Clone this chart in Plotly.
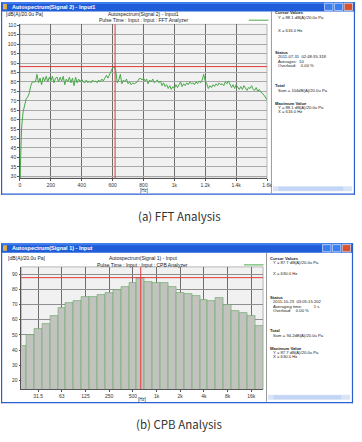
import plotly.graph_objects as go

W, H = 362, 442

# ---------------- data ----------------
FFT_STEP_HZ = 10
FFT_DB = [
    27, 55, 64, 68, 71, 72, 74, 78, 80, 80,
    80, 84, 79.5, 82, 78.5, 82.5, 80.5, 83, 80, 82.5,
    80.5, 83, 79.5, 82, 82.5, 80, 82.5, 80.5, 83, 78.5,
    81.5, 80, 82.5, 79.5, 82, 78, 82.5, 79.5, 81.5, 80,
    81.5, 80, 79.5, 81, 79.5, 80.5, 79.5, 81, 80, 80.5,
    79.5, 81, 80, 81.5, 80.5, 82, 83.5, 82, 84, 85.5,
    87.5, 88, 86, 79.5, 81, 84, 79, 81, 80, 81.5,
    79, 80, 78.5, 79.5, 79, 79.5, 80, 81.5, 82, 81,
    82, 80.5, 81.5, 79, 81, 80, 81.5, 79.5, 80.5, 81,
    79.5, 80.5, 78, 79.5, 77.5, 78.5, 76.5, 78, 76, 77.5,
    76.5, 78.5, 77, 78.5, 80, 77.5, 79, 78, 79.5, 78.5,
    80, 79, 79.5, 78.5, 80, 79, 80.5, 79.5, 81, 84,
    80.5, 79, 76.5, 78, 77, 78.5, 77.5, 79, 78, 79.5,
    78.5, 79, 78, 80, 79, 80.5, 78.5, 77, 78.5, 76.5,
    78.5, 77, 76, 77.5, 76, 78, 76.5, 75.5, 77, 76.5,
    78, 76, 75.5, 77, 75, 76, 74.5, 74, 73, 71.5,
    70.5,
]
FFT_X_TICKS = [0, 200, 400, 600, 800, 1000, 1200, 1400, 1600]
FFT_X_LABELS = ["0", "200", "400", "600", "800", "1k", "1.2k", "1.4k", "1.6k"]
FFT_CURSOR_HZ = 616.0
FFT_CURSOR_DB = 88.1

CPB_BANDS = ["20", "25", "31.5", "40", "50", "63", "80", "100", "125", "160",
             "200", "250", "315", "400", "500", "630", "800", "1k", "1.25k", "1.6k",
             "2k", "2.5k", "3.15k", "4k", "5k", "6.3k", "8k", "10k", "12.5k", "16k",
             "20k"]
CPB_DB = [43.0, 50.2, 53.9, 57.4, 62.6, 67.6, 71.3, 72.4, 75.2, 75.0,
          76.5, 77.8, 79.8, 81.7, 84.4, 87.7, 85.1, 84.4, 84.4, 81.4,
          77.7, 76.8, 75.7, 73.3, 72.4, 74.6, 69.8, 65.8, 64.7, 62.5,
          56.1]
CPB_TICK_BANDS = ["31.5", "63", "125", "250", "500", "1k", "2k", "4k", "8k", "16k"]
CPB_CURSOR_BAND = "630"
CPB_CURSOR_DB = 87.7

FFT_PANEL_TEXT = [
    ("Cursor Values", True, 10.7, 0),
    ("Y = 88.1 dB(A)/20.0u Pa", False, 15.5, 1),
    ("X = 616.0 Hz", False, 28.3, 1),
    ("Status", True, 50.8, 0),
    ("2011-07-31  02:48:35.318", False, 55.3, 1),
    ("Averages:  10", False, 59.6, 1),
    ("Overload:    0.00 %", False, 63.9, 1),
    ("Total", True, 84.3, 0),
    ("Sum = 104dB(A)/20.0u Pa", False, 89.5, 1),
    ("Maximum Value", True, 101.8, 0),
    ("Y = 88.1 dB(A)/20.0u Pa", False, 106.3, 1),
    ("X = 616.0 Hz", False, 110.6, 1),
]
CPB_PANEL_TEXT = [
    ("Cursor Values", True, 257.8, 0),
    ("Y = 87.7 dB(A)/20.0u Pa", False, 262.3, 1),
    ("X = 630.0 Hz", False, 273.3, 1),
    ("Status", True, 297.6, 0),
    ("2011-10-23  03:05:15.202", False, 301.9, 1),
    ("Averaging time:          1 s", False, 306.2, 1),
    ("Overload:    0.00 %", False, 310.5, 1),
    ("Total", True, 331.0, 0),
    ("Sum = 94.2dB(A)/20.0u Pa", False, 336.2, 1),
    ("Maximum Value", True, 348.5, 0),
    ("Y = 87.7 dB(A)/20.0u Pa", False, 352.8, 1),
    ("X = 630.0 Hz", False, 357.1, 1),
]

# ---------------- helpers ----------------
def px(x):
    return x / W

def py(y):
    return 1 - y / H

FONT = "Liberation Sans"
shapes = []
annotations = []

def rect(x0, y0, x1, y1, fill, line=None, lw=0, layer="below"):
    shapes.append(dict(type="rect", xref="paper", yref="paper",
                       x0=px(x0), x1=px(x1), y0=py(y1), y1=py(y0),
                       fillcolor=fill, line=dict(color=line or fill, width=lw),
                       layer=layer))

def line(x0, y0, x1, y1, color, lw=1, layer="below"):
    shapes.append(dict(type="line", xref="paper", yref="paper",
                       x0=px(x0), x1=px(x1), y0=py(y0), y1=py(y1),
                       line=dict(color=color, width=lw), layer=layer))

def text(s, x, y, size=5, color="#222", anchor="left", bold=False, family=FONT):
    annotations.append(dict(text=("<b>%s</b>" % s) if bold else s,
                            x=px(x), y=py(y), xref="paper", yref="paper",
                            xanchor=anchor, yanchor="middle", showarrow=False,
                            font=dict(size=size, color=color, family=family)))

def window(top, bottom, right, divider, title, panel_text, text_x):
    rect(0, top, right, bottom, "#ffffff")
    rect(divider, top + 9.5, right - 2, bottom - 2, "#ffffff")
    line(divider, top + 9.5, divider, bottom - 1.5, "#9a9a9a", 1)
    # scrollbar
    rect(divider + 1.5, bottom - 8.5, right - 3, bottom - 3.5, "#d9e4f7")
    rect(divider + 7, bottom - 8, right - 12, bottom - 4, "#c2d5f4")
    # title bar
    rect(0, top, right, top + 9.5, "#1f5ed8")
    rect(0, top, right, top + 2, "#3d7cea")
    rect(2, top + 2, 6, top + 7.5, "#e8b040")
    text(title, 9, top + 5, size=5.5, color="#ffffff", bold=True)
    for bx, fill in ((right - 31, "#3a7ff0"), (right - 21, "#3a7ff0"), (right - 11, "#d9512e")):
        rect(bx, top + 1.3, bx + 8.5, top + 8.5, fill, line="#ffffff", lw=0.6)
    # borders
    line(0.6, top, 0.6, bottom, "#2a5fd0", 1.2)
    line(right - 0.6, top, right - 0.6, bottom, "#2a5fd0", 1.2)
    line(0, bottom - 0.6, right, bottom - 0.6, "#2a5fd0", 1.4)
    for s, b, y, ind in panel_text:
        text(s, text_x + (2.5 if ind else 0), y, size=4.2, color="#222", bold=b)

# ---------------- windows ----------------
window(0, 194, 360, 275, "Autospectrum(Signal 2) - Input1", FFT_PANEL_TEXT, 277)
window(243, 404, 358, 270, "Autospectrum(Signal 1) - Input", CPB_PANEL_TEXT, 272)

# chart headers
text("[dB(A)/20.0u Pa]", 3, 11.7)
text("Autospectrum(Signal 2) - Input1", 145, 11.7, anchor="center")
text("Pulse Time : Input : Input : FFT Analyzer", 145, 17.7, anchor="center")
line(252, 18.3, 272, 18.3, "#48a848", 1)
text("[Hz]", 145, 189.8, size=4.5, anchor="center")

text("[dB(A)/20.0u Pa]", 5, 257.3)
text("Autospectrum(Signal 1) - Input", 144, 257.3, anchor="center")
text("Pulse Time : Input : Input : CPB Analyzer", 144, 264.3, anchor="center")
line(247, 264.7, 267, 264.7, "#48a848", 1)
text("[Hz]", 143, 400.2, size=4.5, anchor="center")

# captions
text("(a) FFT Analysis", 181, 215, size=11.5, color="#333", anchor="center",
     family="Noto Sans CJK KR")
text("(b) CPB Analysis", 181, 425, size=11.5, color="#333", anchor="center",
     family="Noto Sans CJK KR")

# plot-area backgrounds (below gridlines)
for xr, yr in (("x", "y"), ("x2", "y2")):
    shapes.append(dict(type="rect", xref=xr + " domain", yref=yr + " domain",
                       x0=0, x1=1, y0=0, y1=1, fillcolor="#f1f1f1",
                       line=dict(color="#8a8a8a", width=0.6), layer="below"))

# cursors
RED = "#e03a3a"
shapes.append(dict(type="line", xref="x", yref="y domain", x0=FFT_CURSOR_HZ, x1=FFT_CURSOR_HZ,
                   y0=0, y1=1, line=dict(color=RED, width=1), layer="above"))
shapes.append(dict(type="line", xref="x domain", yref="y", x0=0, x1=1,
                   y0=FFT_CURSOR_DB, y1=FFT_CURSOR_DB, line=dict(color=RED, width=1), layer="above"))
cpb_x = list(range(len(CPB_BANDS)))
ci = CPB_BANDS.index(CPB_CURSOR_BAND)
shapes.append(dict(type="line", xref="x2", yref="y2 domain", x0=ci, x1=ci,
                   y0=0, y1=1, line=dict(color=RED, width=1), layer="above"))
shapes.append(dict(type="line", xref="x2 domain", yref="y2", x0=0, x1=1,
                   y0=CPB_CURSOR_DB, y1=CPB_CURSOR_DB, line=dict(color=RED, width=1), layer="above"))

# ---------------- traces ----------------
fft_hz = [i * FFT_STEP_HZ for i in range(len(FFT_DB))]
fig = go.Figure()
fig.add_trace(go.Scatter(x=fft_hz, y=FFT_DB, mode="lines", xaxis="x", yaxis="y",
                         line=dict(color="#48a848", width=1), showlegend=False,
                         hoverinfo="skip"))
fig.add_trace(go.Bar(x=cpb_x, y=CPB_DB, xaxis="x2", yaxis="y2", width=1,
                     marker=dict(color="#c2c3bf", line=dict(color="#62a862", width=0.6)),
                     base=0, showlegend=False, hoverinfo="skip"))

tickfont = dict(size=5, color="#333", family=FONT)
axis_common = dict(showgrid=True, zeroline=False, ticks="outside", ticklen=2,
                   tickcolor="#555", tickwidth=0.6, tickfont=tickfont,
                   showline=True, linecolor="#555", linewidth=0.6, fixedrange=True)

fig.update_layout(
    width=W, height=H, margin=dict(l=0, r=0, t=0, b=0),
    paper_bgcolor="#ffffff", plot_bgcolor="rgba(0,0,0,0)",
    showlegend=False, bargap=0,
    xaxis=dict(domain=[px(19.3), px(270.5)], range=[0, 1600], anchor="y",
               tickvals=FFT_X_TICKS, ticktext=FFT_X_LABELS,
               gridcolor="#6e6e6e", gridwidth=0.7, **axis_common),
    yaxis=dict(domain=[py(177.5), py(22.5)], range=[28.9, 110.5], anchor="x",
               tick0=30, dtick=5, gridcolor="#a8a8a8", gridwidth=0.7, **axis_common),
    xaxis2=dict(domain=[px(20.7), px(266.5)], range=[-0.125, 30.5], anchor="y2",
                tickvals=[CPB_BANDS.index(b) for b in CPB_TICK_BANDS],
                ticktext=CPB_TICK_BANDS, gridcolor="#6e6e6e", gridwidth=0.7,
                **axis_common),
    yaxis2=dict(domain=[py(390), py(266.7)], range=[14.1, 94.8], anchor="x2",
                tick0=20, dtick=10, gridcolor="#8e8e8e", gridwidth=0.7, **axis_common),
    shapes=shapes, annotations=annotations,
)

fig.write_html("out.html")
